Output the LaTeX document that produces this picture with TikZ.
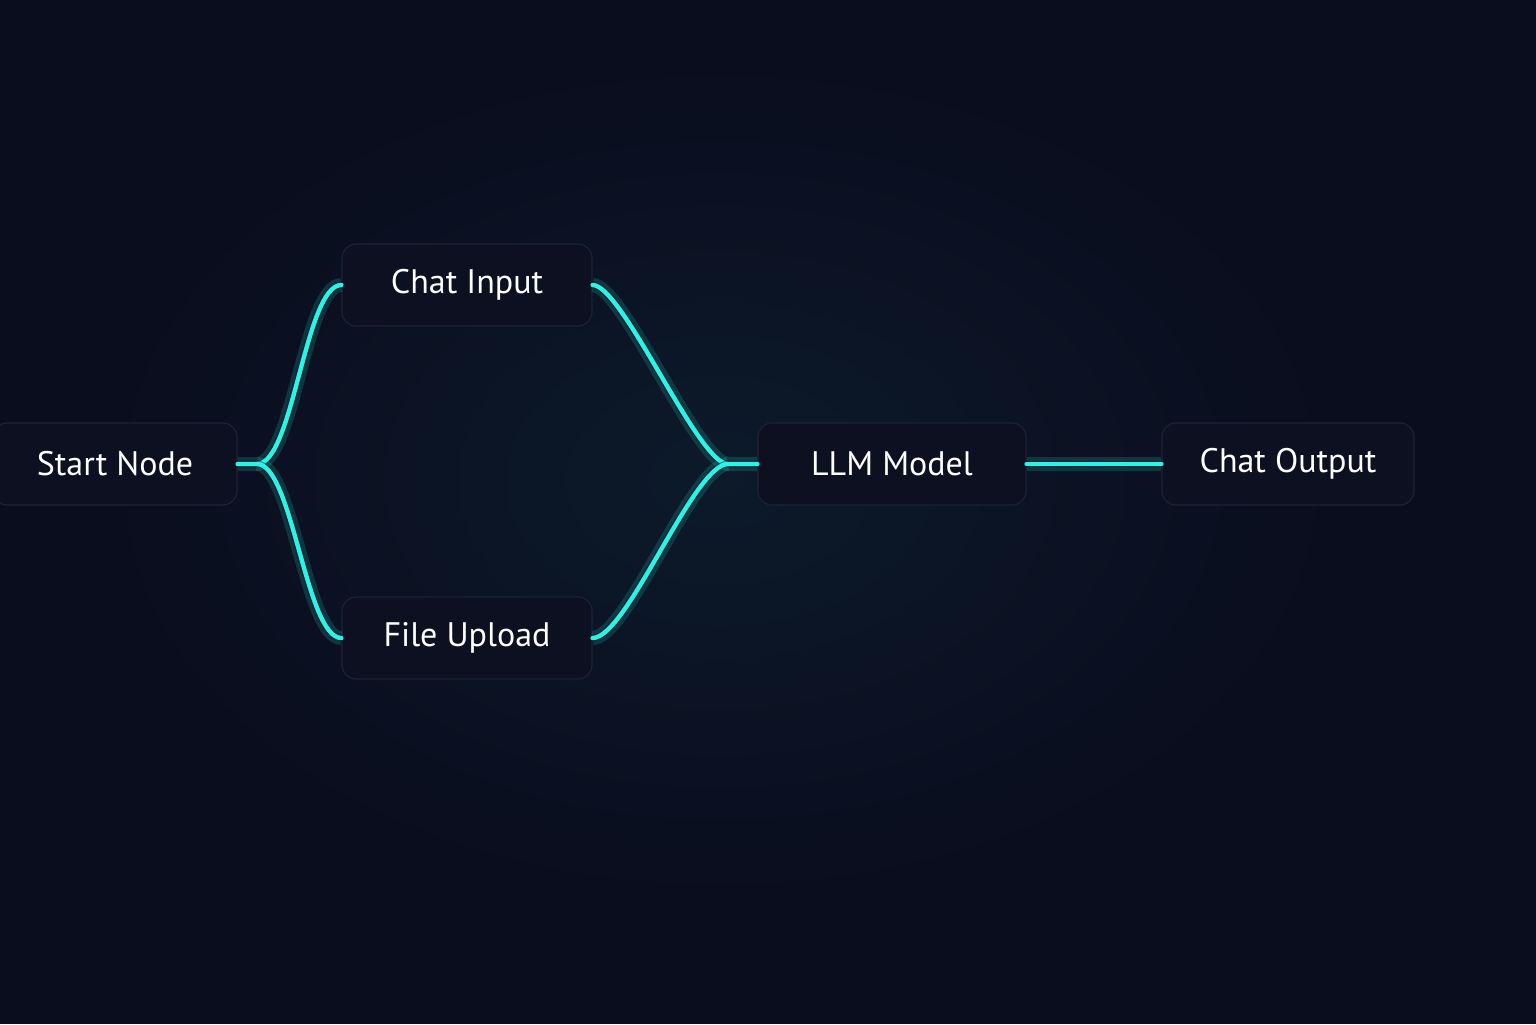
\documentclass[tikz,border=0pt]{standalone}
\usepackage{fontspec}
\setmainfont{PT Sans}
\definecolor{bgc}{HTML}{0A0D1E}
\definecolor{glowc}{HTML}{0C1A2A}
\definecolor{boxfill}{HTML}{0C1020}
\definecolor{boxline}{HTML}{1C2236}
\definecolor{wirec}{HTML}{28F4E8}
\tikzset{
  box/.style={draw=boxline, line width=0.6pt, fill=boxfill, rounded corners=7pt,
    minimum height=41pt, text=white, font=\fontsize{17}{20}\selectfont, inner sep=0pt},
  wire/.style={draw=wirec, line width=2.2pt, line cap=round,
    preaction={draw=wirec, opacity=0.16, line width=7pt},
    preaction={draw=black, opacity=0.35, line width=3.4pt}},
}
\begin{document}
\begin{tikzpicture}[x=0.5pt,y=-0.5pt]
\useasboundingbox (0,0) rectangle (1536,1024);
\fill[bgc] (0,0) rectangle (1536,1024);
\shade[inner color=glowc, outer color=bgc] (720,480) ellipse (620 and 420);
% nodes
\node[box, minimum width=122pt] (start) at (115,464) {Start Node};
\node[box, minimum width=125pt] (ci) at (467,285) {Chat Input};
\node[box, minimum width=125pt] (fu) at (467,638) {File Upload};
\node[box, minimum width=134pt] (llm) at (892,464) {LLM Model};
\node[box, minimum width=126pt] (co) at (1288,464) {Chat Output};
\coordinate (j1) at (257,464);
\coordinate (j2) at (728,464);
% connectors
\draw[wire] (start.east) -- (j1) to[out=0,in=180,looseness=0.47] (ci.west);
\draw[wire] (j1) to[out=0,in=180,looseness=0.47] (fu.west);
\draw[wire] (ci.east) to[out=0,in=180,looseness=0.34] (j2) -- (llm.west);
\draw[wire] (fu.east) to[out=0,in=180,looseness=0.4] (j2);
\draw[wire] (llm.east) -- (co.west);
\end{tikzpicture}
\end{document}
